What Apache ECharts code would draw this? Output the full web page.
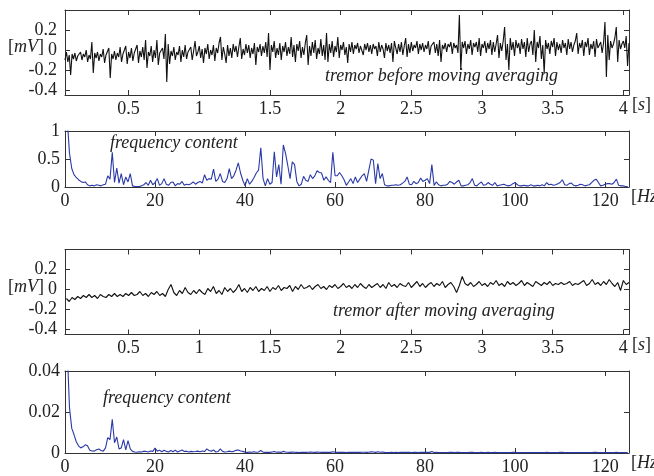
<!DOCTYPE html>
<html><head><meta charset="utf-8">
<script src="https://cdn.jsdelivr.net/npm/echarts@6/dist/echarts.min.js"></script>
<style>html,body{margin:0;padding:0;background:#fff}#c{width:654px;height:476px}</style>
</head><body><div id="c"></div>
<script>
// ---------- DATA ----------
const rawStart = 0.05, rawStep = 0.01;   // raw tremor sample times [s]
const rawValues = [
-0.10,-0.02,-0.12,-0.05,-0.25,-0.04,-0.09,-0.03,-0.11,-0.06,
-0.08,-0.02,-0.10,-0.04,-0.07,0.00,-0.12,-0.05,-0.09,0.08,
-0.23,-0.03,-0.08,-0.02,-0.11,-0.04,-0.07,0.01,-0.13,-0.05,
-0.06,0.02,-0.28,-0.04,-0.09,-0.01,-0.10,-0.03,-0.07,0.03,
-0.12,-0.04,-0.06,0.04,-0.14,-0.02,-0.08,0.02,-0.11,-0.03,
-0.05,0.05,-0.13,-0.01,-0.07,0.03,-0.10,0.10,-0.18,-0.02,
-0.06,0.04,-0.12,0.00,-0.08,0.10,-0.15,-0.03,-0.05,0.02,
-0.09,0.16,-0.32,0.06,-0.14,-0.01,-0.06,0.03,-0.10,-0.02,
-0.05,0.04,-0.12,0.00,-0.07,0.05,-0.09,-0.02,-0.04,0.03,
-0.10,-0.01,0.09,-0.06,-0.02,0.04,-0.08,0.01,-0.13,0.02,
-0.04,0.06,-0.09,0.00,-0.05,0.05,-0.11,0.02,-0.03,0.07,
0.13,-0.10,0.03,-0.04,-0.13,0.05,-0.06,0.02,-0.08,0.06,
-0.02,0.04,-0.07,0.03,0.12,-0.09,0.01,-0.05,0.06,-0.03,
0.05,-0.08,0.02,-0.04,0.07,-0.15,0.03,-0.02,0.06,-0.06,
0.04,-0.03,0.08,-0.07,0.17,-0.20,0.05,-0.02,0.09,-0.08,
0.02,-0.05,0.07,-0.10,0.04,-0.02,0.08,-0.06,0.03,-0.04,
0.13,-0.07,0.05,-0.12,0.06,-0.01,0.09,-0.08,0.03,-0.05,
0.07,0.15,-0.15,0.04,-0.06,0.08,-0.03,0.10,-0.09,0.02,
-0.04,0.11,-0.06,0.05,-0.10,0.17,-0.12,0.06,-0.03,0.09,
-0.07,0.04,-0.02,0.13,-0.08,0.05,0.00,0.08,-0.05,0.03,
-0.13,0.06,-0.02,0.08,-0.04,0.05,0.01,0.07,-0.03,0.04,
0.02,-0.05,0.06,0.00,0.07,-0.02,0.05,-0.04,0.06,0.01,
0.04,-0.06,0.08,-0.02,0.05,0.01,-0.08,0.07,-0.01,0.05,
-0.03,0.07,-0.12,0.09,0.02,-0.04,0.06,-0.02,0.08,-0.05,
0.04,0.12,-0.07,0.06,-0.03,0.08,-0.01,0.05,0.02,0.09,
-0.04,0.06,0.00,0.07,-0.02,0.05,0.01,0.09,-0.05,0.04,
0.02,0.08,-0.03,0.06,-0.06,0.10,-0.12,0.05,0.01,0.07,
-0.02,0.06,0.03,0.08,-0.04,0.07,0.02,0.05,-0.03,0.35,
-0.20,0.08,0.02,0.09,-0.04,0.06,0.01,0.10,-0.05,0.07,
0.03,0.08,-0.02,0.12,-0.06,0.06,0.02,0.09,-0.03,0.07,
0.01,0.10,-0.05,0.08,-0.02,0.06,0.15,-0.08,0.07,-0.01,
0.09,0.23,-0.10,0.06,-0.20,0.12,0.00,0.08,-0.06,0.10,
0.02,0.07,-0.04,0.11,0.01,0.08,-0.07,0.12,-0.02,0.06,
0.09,-0.05,0.20,-0.12,0.08,0.02,0.14,-0.09,0.05,-0.23,
0.10,0.01,0.07,-0.04,0.09,0.03,0.12,-0.06,0.08,0.00,
0.06,-0.03,0.10,0.02,0.07,-0.05,0.11,0.01,0.08,-0.02,
0.05,0.09,0.17,-0.04,0.07,0.02,0.10,-0.06,0.08,0.03,
0.12,-0.05,0.06,0.01,0.09,-0.07,0.11,0.02,0.05,0.08,
-0.03,0.07,0.28,-0.27,0.15,-0.10,0.09,0.02,0.06,0.12,
0.23,-0.12,0.10,0.01,0.06,0.09,0.02,0.14,-0.16,0.07
];
const avgStart = 0.06, avgStep = 0.02;  // averaged tremor sample times [s]
const avgValues = [
-0.09,-0.12,-0.08,-0.10,-0.07,-0.09,-0.06,-0.08,-0.05,-0.08,
-0.06,-0.09,-0.05,-0.07,-0.08,-0.05,-0.07,-0.04,-0.07,-0.05,
-0.07,-0.04,-0.06,-0.03,-0.06,-0.05,-0.02,-0.06,-0.04,-0.07,
-0.03,-0.05,-0.02,-0.06,-0.04,-0.07,0.00,0.05,-0.03,-0.06,
-0.01,-0.04,0.02,-0.03,-0.05,-0.01,-0.04,0.00,-0.03,-0.05,
0.01,-0.02,0.03,-0.04,-0.01,-0.05,0.02,-0.02,0.01,-0.03,
0.00,0.05,-0.02,0.01,-0.03,0.02,-0.01,0.03,-0.02,0.01,
-0.01,0.03,-0.02,0.02,0.00,0.04,-0.01,0.02,0.01,0.04,
-0.02,0.03,0.00,0.05,0.01,0.02,0.04,0.00,0.03,0.05,
0.01,0.03,0.00,0.04,0.02,0.05,0.01,0.03,0.06,0.02,
0.04,0.01,0.05,0.02,0.06,0.03,0.01,0.05,0.02,0.04,
0.06,0.02,0.05,0.01,0.07,0.03,0.05,0.02,0.06,0.04,
0.03,0.07,0.02,0.05,0.08,0.03,0.06,0.02,0.05,0.07,
0.03,0.06,0.04,0.08,0.02,0.05,0.07,0.03,-0.03,0.04,
0.13,0.06,0.04,0.07,0.03,0.05,0.08,0.04,0.06,0.03,
0.07,0.05,0.09,0.04,0.06,0.03,0.08,0.05,0.07,0.04,
0.06,0.09,0.04,0.07,0.05,0.03,0.08,0.06,0.04,0.07,
0.05,0.08,0.04,0.06,0.05,0.07,0.05,0.06,0.08,0.04,
0.06,0.05,0.07,0.09,0.04,0.06,0.10,0.05,0.07,0.04,
0.08,0.05,0.10,0.06,0.03,0.07,-0.01,0.09,0.05,0.07
];
const freqStart = 0, freqStep = 0.5;    // spectrum bins [Hz]
const specBefore = [
2.5,1.2,0.6,0.33,0.22,0.17,0.13,0.1,0.08,0.09,
0.04,0.02,0.03,0.02,0.04,0.03,0.02,0.04,0.05,0.2,
0.14,0.62,0.08,0.34,0.07,0.24,0.04,0.18,0.09,0.24,
0.02,0.01,0.01,0.01,0.02,0.04,0.08,0.03,0.12,0.04,
0.08,0.15,0.03,0.06,0.15,0.05,0.03,0.08,0.09,0.02,
0.06,0.05,0.1,0.03,0.05,0.04,0.06,0.09,0.05,0.08,
0.1,0.07,0.22,0.12,0.15,0.14,0.32,0.1,0.14,0.24,
0.1,0.08,0.15,0.33,0.15,0.2,0.3,0.43,0.25,0.12,
0.02,0.15,0.05,0.1,0.17,0.25,0.3,0.7,0.15,0.02,
0.15,0.05,0.08,0.63,0.18,0.4,0.05,0.75,0.6,0.38,
0.15,0.45,0.4,0.1,0.02,0.05,0.19,0.12,0.1,0.22,
0.15,0.2,0.29,0.26,0.25,0.12,0.18,0.12,0.08,0.62,
0.2,0.2,0.26,0.2,0.13,0.03,0.09,0.15,0.06,0.18,
0.08,0.14,0.2,0.24,0.1,0.3,0.5,0.48,0.06,0.42,
0.15,0.24,0.04,0.02,0.02,0.03,0.03,0.04,0.03,0.04,
0.07,0.1,0.18,0.05,0.04,0.1,0.06,0.08,0.16,0.1,
0.12,0.15,0.06,0.4,0.03,0.09,0.04,0.02,0.03,0.03,
0.05,0.1,0.08,0.05,0.09,0.12,0.02,0.02,0.03,0.04,
0.08,0.15,0.03,0.02,0.06,0.09,0.03,0.04,0.08,0.05,
0.03,0.08,0.02,0.03,0.04,0.05,0.03,0.02,0.03,0.06,
0.08,0.04,0.02,0.02,0.03,0.02,0.02,0.04,0.02,0.02,
0.03,0.02,0.04,0.02,0.08,0.04,0.05,0.03,0.04,0.06,
0.08,0.13,0.04,0.03,0.06,0.07,0.03,0.02,0.03,0.05,
0.04,0.02,0.03,0.04,0.08,0.12,0.14,0.08,0.02,0.03,
0.05,0.06,0.06,0.05,0.08,0.14,0.03,0.02,0.02,0.01,
0.01
];
const specAfter = [
0.09,0.05,0.022,0.012,0.009,0.0055,0.0035,0.0025,0.003,0.004,
0.0035,0.0013,0.001,0.0009,0.0016,0.002,0.0012,0.0009,0.0025,0.0075,
0.0065,0.0164,0.005,0.0078,0.002,0.0025,0.0065,0.0015,0.006,0.002,
0.0008,0.0005,0.0004,0.0006,0.0005,0.0009,0.0007,0.0005,0.001,0.0008,
0.0024,0.0009,0.0014,0.0006,0.0013,0.0008,0.0005,0.0012,0.0006,0.0014,
0.0005,0.001,0.0015,0.0007,0.0009,0.0005,0.0008,0.0006,0.0007,0.0009,
0.0006,0.001,0.0007,0.002,0.0012,0.0009,0.0015,0.0005,0.0007,0.002,
0.0008,0.0005,0.0006,0.0009,0.0006,0.0008,0.0013,0.0015,0.001,0.0008,
0.0004,0.0003,0.0005,0.0004,0.0006,0.0004,0.0005,0.0012,0.0004,0.0003,
0.0004,0.0003,0.0005,0.0007,0.0004,0.0005,0.0003,0.0008,0.0005,0.0004,
0.0003,0.0005,0.0004,0.0003,0.0002,0.0003,0.0004,0.0003,0.0004,0.0005,
0.0004,0.0003,0.0005,0.0004,0.0003,0.0004,0.0003,0.0004,0.0003,0.0006,
0.0004,0.0003,0.0004,0.0003,0.0003,0.0002,0.0003,0.0004,0.0003,0.0004,
0.0003,0.0003,0.0004,0.0004,0.0003,0.0004,0.0006,0.0005,0.0003,0.0006,
0.0004,0.0005,0.0003,0.0002,0.0002,0.0003,0.0002,0.0003,0.0002,0.0003,
0.0003,0.0003,0.0004,0.0003,0.0002,0.0003,0.0003,0.0002,0.0004,0.0003,
0.0003,0.0004,0.0003,0.0007,0.0002,0.0003,0.0002,0.0002,0.0002,0.0002,
0.0002,0.0003,0.0003,0.0002,0.0003,0.0003,0.0002,0.0002,0.0002,0.0002,
0.0003,0.0003,0.0002,0.0002,0.0002,0.0003,0.0002,0.0002,0.0003,0.0002,
0.0002,0.0003,0.0002,0.0002,0.0002,0.0002,0.0002,0.0002,0.0002,0.0003,
0.0003,0.0002,0.0002,0.0002,0.0002,0.0002,0.0002,0.0002,0.0002,0.0002,
0.0002,0.0002,0.0002,0.0002,0.0003,0.0002,0.0002,0.0002,0.0002,0.0002,
0.0003,0.0003,0.0002,0.0002,0.0002,0.0002,0.0002,0.0002,0.0002,0.0002,
0.0002,0.0002,0.0002,0.0002,0.0002,0.0003,0.0003,0.0002,0.0002,0.0002,
0.0002,0.0002,0.0002,0.0002,0.0002,0.0003,0.0002,0.0002,0.0002,0.0002,
0.0002
];
const timeTicks = [0.5,1,1.5,2,2.5,3,3.5,4];
const freqTicks = [0,20,40,60,80,100,120];
const mvTicks = [-0.4,-0.2,0,0.2];
const specBeforeTicks = [0,0.5,1];
const specAfterTicks = [0,0.02,0.04];
const labelsText = {
  before: 'tremor before moving averaging',
  after: 'tremor after moving averaging',
  freq: 'frequency content'
};

// ---------- BUILD ----------
const pairs = (start, step, vals) => vals.map((v, i) => [+(start + i * step).toFixed(4), v]);
const FONT = 'Liberation Serif';
const TXT = '#222';
const LINE = '#333';

const grids = [
  {left: 65, width: 564, top: 10, height: 85},
  {left: 65, width: 564, top: 131, height: 56},
  {left: 65, width: 564, top: 249.5, height: 85},
  {left: 65, width: 564, top: 371, height: 83.5}
];
const spec = [
  {x: [0.05, 4.04], xt: timeTicks, y: [-0.45, 0.4], yt: mvTicks, ym: 8},
  {x: [0, 125.3], xt: freqTicks, y: [0, 1], yt: specBeforeTicks, ym: 5},
  {x: [0.05, 4.04], xt: timeTicks, y: [-0.45, 0.4], yt: mvTicks, ym: 8},
  {x: [0, 125.3], xt: freqTicks, y: [0, 0.04], yt: specAfterTicks, ym: 5}
];
const xAxis = [], yAxis = [];
spec.forEach((s, g) => {
  ['bottom', 'top'].forEach(pos => {
    xAxis.push({
      type: 'value', gridIndex: g, position: pos, min: s.x[0], max: s.x[1],
      axisLine: {show: true, onZero: false, lineStyle: {color: LINE, width: 1}},
      axisTick: {show: true, inside: true, length: 5, customValues: s.xt, lineStyle: {color: LINE}},
      axisLabel: {show: pos === 'bottom', customValues: s.xt, margin: 5, color: TXT,
                  fontFamily: FONT, fontSize: 18},
      splitLine: {show: false}
    });
  });
  ['left', 'right'].forEach(pos => {
    yAxis.push({
      type: 'value', gridIndex: g, position: pos, min: s.y[0], max: s.y[1],
      axisLine: {show: true, onZero: false, lineStyle: {color: LINE, width: 1}},
      axisTick: {show: true, inside: true, length: 5, customValues: s.yt, lineStyle: {color: LINE}},
      axisLabel: {show: pos === 'left', customValues: s.yt, margin: s.ym, color: TXT,
                  fontFamily: FONT, fontSize: 18},
      splitLine: {show: false}
    });
  });
});

const lineSeries = (g, data, color) => ({
  type: 'line', xAxisIndex: g * 2, yAxisIndex: g * 2, data: data,
  showSymbol: false, symbol: 'none', clip: true, animation: false,
  lineStyle: {color: color, width: 1.1}
});
const series = [
  lineSeries(0, pairs(rawStart, rawStep, rawValues), '#111'),
  lineSeries(1, pairs(freqStart, freqStep, specBefore), '#2a39a8'),
  lineSeries(2, pairs(avgStart, avgStep, avgValues), '#111'),
  lineSeries(3, pairs(freqStart, freqStep, specAfter), '#2a39a8')
];

const rich = {
  u: {fontFamily: FONT, fontSize: 18, fill: TXT, color: TXT},
  i: {fontFamily: FONT, fontSize: 18, fontStyle: 'italic', fill: TXT, color: TXT}
};
const unitText = (x, y, s) => ({
  type: 'text', left: x, top: y - 11, silent: true,
  style: {text: '{u|[}{i|' + s + '}{u|]}', rich: rich, font: '18px ' + FONT}
});
const note = (x, y, s) => ({
  type: 'text', left: x, top: y - 11, silent: true,
  style: {text: s, font: 'italic 18px ' + FONT, fill: TXT}
});
const graphic = [
  unitText(8, 49, 'mV'),
  unitText(8, 289.5, 'mV'),
  unitText(632, 107, 's'),
  unitText(632, 347, 's'),
  unitText(631, 199, 'Hz'),
  unitText(631, 465, 'Hz'),
  note(325, 78, labelsText.before),
  note(110, 145, labelsText.freq),
  note(333, 313, labelsText.after),
  note(103, 400, labelsText.freq)
];

const chart = echarts.init(document.getElementById('c'), null, {renderer: 'canvas'});
chart.setOption({
  animation: false,
  backgroundColor: '#fff',
  grid: grids,
  xAxis: xAxis,
  yAxis: yAxis,
  series: series,
  graphic: graphic
});
</script>
</body></html>
